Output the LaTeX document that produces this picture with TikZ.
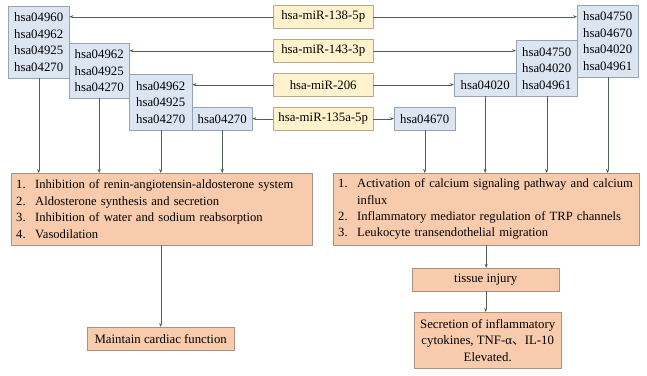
\documentclass[tikz,border=0pt]{standalone}
\usepackage{fontspec}
\setmainfont{Liberation Serif}
\newfontfamily\cjk{Noto Sans CJK SC}
\usepackage{xcolor}
\usepackage{tikz}
\usetikzlibrary{arrows.meta}
\definecolor{kegg}{HTML}{DCE6F2}
\definecolor{keggline}{HTML}{95A3B5}
\definecolor{mirna}{HTML}{FFF2CC}
\definecolor{mirnaline}{HTML}{B9A985}
\definecolor{effect}{HTML}{F8CBAD}
\definecolor{effectline}{HTML}{A89282}
\definecolor{linkc}{HTML}{4E6450}
\newcommand{\itm}[2]{\makebox[19pt][l]{#1}\mbox{#2}}

\begin{document}
\begin{tikzpicture}[x=1pt,y=-1pt,font=\rmfamily\fontsize{12.8}{16.5}\selectfont,
  pathbox/.style={draw=keggline,fill=kegg,anchor=north west,inner sep=0pt,align=center},
  mirbox/.style={draw=mirnaline,fill=mirna,anchor=north west,inner sep=0pt,
    minimum width=100pt,minimum height=23pt},
  effbox/.style={draw=effectline,fill=effect,anchor=north west,inner sep=0pt,align=center},
  listbox/.style={effbox,inner xsep=5pt,align=left,minimum height=72pt,
    font=\rmfamily\fontsize{12.6}{16.4}\selectfont},
  link/.style={draw=linkc,-{Stealth[length=4pt,width=3pt]}}]
  \useasboundingbox (0,0) rectangle (647,375);
  % miRNAs in the middle column
  \node[mirbox] (m1) at (273,5) {hsa-miR-138-5p};
  \node[mirbox] (m2) at (273,39) {hsa-miR-143-3p};
  \node[mirbox] (m3) at (273,73) {hsa-miR-206};
  \node[mirbox] (m4) at (273,107) {hsa-miR-135a-5p};
  % left pathway boxes
  \node[pathbox,minimum width=61pt,minimum height=72pt] (a1) at (8,6) {hsa04960\\hsa04962\\hsa04925\\hsa04270};
  \node[pathbox,minimum width=60pt,minimum height=55pt] (a2) at (69,43) {hsa04962\\hsa04925\\hsa04270};
  \node[pathbox,minimum width=63pt,minimum height=56pt] (a3) at (129,74) {hsa04962\\hsa04925\\hsa04270};
  \node[pathbox,minimum width=60pt,minimum height=23pt] (a4) at (192,107) {hsa04270};
  % right pathway boxes
  \node[pathbox,minimum width=61pt,minimum height=72pt] (b1) at (577,5) {hsa04750\\hsa04670\\hsa04020\\hsa04961};
  \node[pathbox,minimum width=61pt,minimum height=56pt] (b2) at (516,40) {hsa04750\\hsa04020\\hsa04961};
  \node[pathbox,minimum width=62pt,minimum height=23pt] (b3) at (454,73) {hsa04020};
  \node[pathbox,minimum width=61pt,minimum height=23pt] (b4) at (394,107) {hsa04670};
  % effects
  \node[listbox,text width=291pt] (left) at (11,173) {%
    \itm{1.}{Inhibition of renin-angiotensin-aldosterone system}\\
    \itm{2.}{Aldosterone synthesis and secretion}\\
    \itm{3.}{Inhibition of water and sodium reabsorption}\\
    \itm{4.}{Vasodilation}};
  \node[listbox,text width=296pt] (right) at (333,173) {%
    \itm{1.}{Activation of calcium signaling pathway and calcium}\\
    \itm{}{influx}\\
    \itm{2.}{Inflammatory mediator regulation of TRP channels}\\
    \itm{3.}{Leukocyte transendothelial migration}};
  \node[effbox,minimum width=147pt,minimum height=23pt] (cardiac) at (87,327) {Maintain cardiac function};
  \node[effbox,minimum width=147pt,minimum height=23pt] (injury) at (412,268) {tissue injury};
  \node[effbox,minimum width=147pt,minimum height=56pt] (cyto) at (414,312) {Secretion of inflammatory\\cytokines, TNF-α{\cjk 、}IL-10\\Elevated.};
  % miRNA to pathways
  \draw[link] (m1.west) -- (m1.west -| a1.east);
  \draw[link] (m2.west) -- (m2.west -| a2.east);
  \draw[link] (m3.west) -- (m3.west -| a3.east);
  \draw[link] (m4.west) -- (m4.west -| a4.east);
  \draw[link] (m1.east) -- (m1.east -| b1.west);
  \draw[link] (m2.east) -- (m2.east -| b2.west);
  \draw[link] (m3.east) -- (m3.east -| b3.west);
  \draw[link] (m4.east) -- (m4.east -| b4.west);
  % pathways to effects
  \foreach \p in {a1,a2,a3,a4} \draw[link] (\p.south) -- (\p.south |- left.north);
  \foreach \p in {b1,b2,b3,b4} \draw[link] (\p.south) -- (\p.south |- right.north);
  \draw[link] (cardiac.north |- left.south) -- (cardiac.north);
  \draw[link] (right.south) -- (right.south |- injury.north);
  \draw[link] (injury.south) -- (injury.south |- cyto.north);
\end{tikzpicture}
\end{document}
